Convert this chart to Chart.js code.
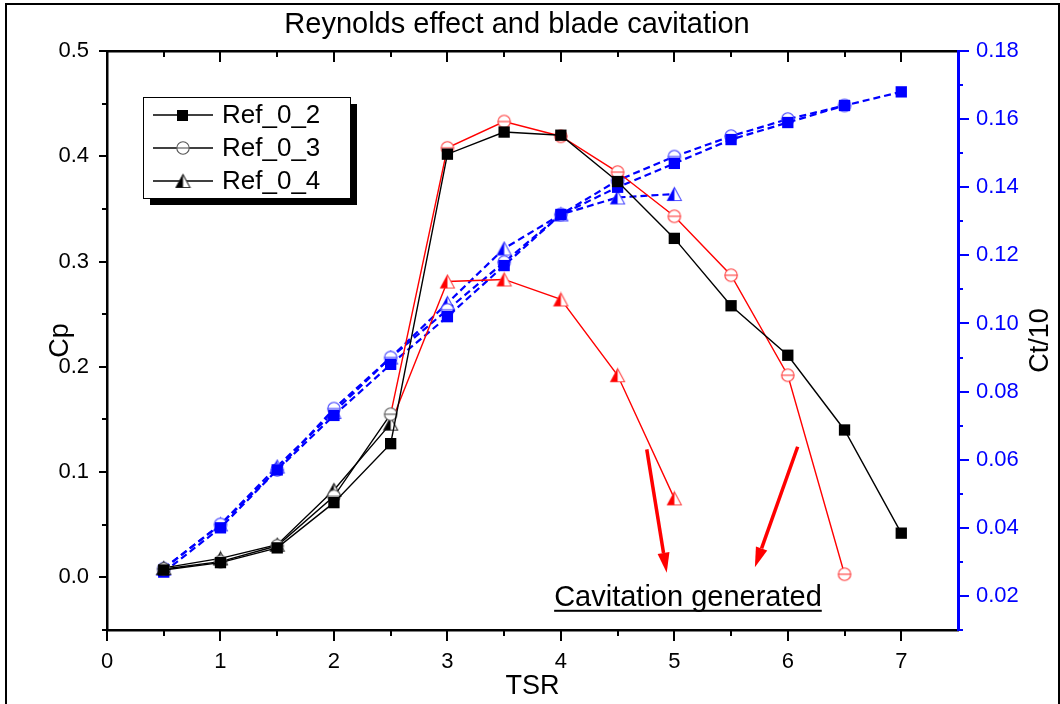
<!DOCTYPE html>
<html>
<head>
<meta charset="utf-8">
<title>Reynolds effect and blade cavitation</title>
<script src="https://cdn.jsdelivr.net/npm/chart.js@4.4.0/dist/chart.umd.min.js"></script>
<style>
  html, body { margin: 0; padding: 0; background: #fff; }
  #wrap { position: relative; width: 1060px; height: 704px; overflow: hidden; }
  #moldura { position: absolute; left: 5px; top: 3px; width: 1051px; height: 720px;
             border: 2px solid #000; pointer-events: none; }
</style>
</head>
<body>
<div id="wrap">
  <canvas id="grafico" width="1060" height="704"></canvas>
  <div id="moldura"></div>
</div>
<script>
// ---- dados ----
const TSR = [0.5, 1, 1.5, 2, 2.5, 3, 3.5, 4, 4.5, 5, 5.5, 6, 6.5, 7];

const CP_REF_02 = [0.007, 0.014, 0.028, 0.071, 0.127, 0.402, 0.423, 0.420, 0.376, 0.322, 0.258, 0.211, 0.140, 0.042];
const CP_REF_03 = [0.008, 0.015, 0.030, 0.077, 0.155, 0.408, 0.433, 0.419, 0.385, 0.343, 0.287, 0.192, 0.003];
const CP_REF_04 = [0.009, 0.018, 0.031, 0.083, 0.146, 0.281, 0.283, 0.264, 0.192, 0.075];

const CT_REF_02 = [0.027, 0.040, 0.057, 0.073, 0.088, 0.102, 0.117, 0.132, 0.140, 0.147, 0.154, 0.159, 0.164, 0.168];
const CT_REF_03 = [0.028, 0.041, 0.057, 0.075, 0.090, 0.104, 0.118, 0.132, 0.142, 0.149, 0.155, 0.160, 0.164];
const CT_REF_04 = [0.028, 0.041, 0.058, 0.074, 0.090, 0.106, 0.122, 0.132, 0.137, 0.138];

const LEGENDA = ['Ref_0_2', 'Ref_0_3', 'Ref_0_4'];
const TITULO = 'Reynolds effect and blade cavitation';
const TITULO_Y2 = 'Ct/10';

// a partir deste TSR as curvas Cp de 0_3 e 0_4 ficam vermelhas
const TSR_CAVITACAO = 3;

const FONTE = "'Liberation Sans', Arial, sans-serif";
const AZUL = '#0000ff';
const VERMELHO = '#ff0000';

// ---- marcadores desenhados em canvas ----
function circuloCortado(cor) {
  const c = document.createElement('canvas');
  c.width = c.height = 16;
  const g = c.getContext('2d');
  g.strokeStyle = cor;
  g.lineWidth = 1.1;
  g.beginPath();
  g.arc(8, 8, 6.2, 0, Math.PI * 2);
  g.fillStyle = '#fff';
  g.fill();
  g.stroke();
  g.beginPath();
  g.moveTo(1.8, 8);
  g.lineTo(14.2, 8);
  g.stroke();
  return c;
}

function meioTriangulo(cor, contorno) {
  const c = document.createElement('canvas');
  c.width = 17; c.height = 16;
  const g = c.getContext('2d');
  const topo = [8.5, 1.5], esq = [1.5, 14.5], dir = [15.5, 14.5];
  g.fillStyle = '#fff';
  g.beginPath();
  g.moveTo(...topo); g.lineTo(...esq); g.lineTo(...dir); g.closePath();
  g.fill();
  g.strokeStyle = contorno;
  g.lineWidth = 1.1;
  g.stroke();
  g.fillStyle = cor;
  g.beginPath();
  g.moveTo(...topo); g.lineTo(...esq); g.lineTo(8.5, 14.5); g.closePath();
  g.fill();
  return c;
}

const MARCA = {
  circPreto: circuloCortado('#555'),
  circVermelho: circuloCortado('#ff3a3a'),
  circAzul: circuloCortado('#3a3aff'),
  triPreto: meioTriangulo('#000', '#333'),
  triVermelho: meioTriangulo(VERMELHO, '#ff4a4a'),
  triAzul: meioTriangulo(AZUL, '#5050ff'),
};

const pontos = (ys) => ys.map((y, i) => ({ x: TSR[i], y }));
const cavitando = (ctx) => TSR[ctx.dataIndex] >= TSR_CAVITACAO;

// ---- séries ----
const datasets = [
  {
    label: 'Cp ' + LEGENDA[0], data: pontos(CP_REF_02), yAxisID: 'y', order: 1,
    borderColor: '#000', borderWidth: 1.4,
    pointStyle: 'rect', pointRadius: 8, pointBackgroundColor: '#000', pointBorderWidth: 0,
  },
  {
    label: 'Cp ' + LEGENDA[1], data: pontos(CP_REF_03), yAxisID: 'y', order: 2,
    borderColor: '#000', borderWidth: 1.4,
    segment: { borderColor: s => TSR[s.p1DataIndex] >= TSR_CAVITACAO ? VERMELHO : '#000' },
    pointStyle: ctx => cavitando(ctx) ? MARCA.circVermelho : MARCA.circPreto,
  },
  {
    label: 'Cp ' + LEGENDA[2], data: pontos(CP_REF_04), yAxisID: 'y', order: 3,
    borderColor: '#000', borderWidth: 1.4,
    segment: { borderColor: s => TSR[s.p1DataIndex] >= TSR_CAVITACAO ? VERMELHO : '#000' },
    pointStyle: ctx => cavitando(ctx) ? MARCA.triVermelho : MARCA.triPreto,
  },
  {
    label: 'Ct/10 ' + LEGENDA[0], data: pontos(CT_REF_02), yAxisID: 'y2', order: 4,
    borderColor: AZUL, borderWidth: 2.2, borderDash: [7, 4],
    pointStyle: 'rect', pointRadius: 8, pointBackgroundColor: AZUL, pointBorderWidth: 0,
  },
  {
    label: 'Ct/10 ' + LEGENDA[1], data: pontos(CT_REF_03), yAxisID: 'y2', order: 5,
    borderColor: AZUL, borderWidth: 2.2, borderDash: [7, 4],
    pointStyle: MARCA.circAzul,
  },
  {
    label: 'Ct/10 ' + LEGENDA[2], data: pontos(CT_REF_04), yAxisID: 'y2', order: 6,
    borderColor: AZUL, borderWidth: 2.2, borderDash: [7, 4],
    pointStyle: MARCA.triAzul,
  },
];

// ---- marcas dos eixos (maiores e menores) ----
const marcasEixos = {
  id: 'marcasEixos',
  afterDraw(chart) {
    const { ctx, chartArea: a, scales } = chart;
    const traco = (x1, y1, x2, y2) => { ctx.beginPath(); ctx.moveTo(x1, y1); ctx.lineTo(x2, y2); ctx.stroke(); };
    ctx.save();
    ctx.lineWidth = 2;
    ctx.strokeStyle = '#000';
    for (let k = 0; k <= 14; k++) {
      const px = Math.round(scales.x.getPixelForValue(k * 0.5));
      const len = k % 2 === 0 ? 11 : 6;
      traco(px, a.bottom, px, a.bottom + len);
      traco(px, a.top, px, a.top + len);
    }
    for (let k = -1; k <= 10; k++) {
      const py = Math.round(scales.y.getPixelForValue(k * 0.05));
      const len = k % 2 === 0 ? 8 : 5;
      traco(a.left, py, a.left - len, py);
    }
    ctx.strokeStyle = AZUL;
    for (let k = 1; k <= 18; k++) {
      const py = Math.round(scales.y2.getPixelForValue(k * 0.01));
      const len = k % 2 === 0 ? 11 : 5;
      traco(a.right, py, a.right + len, py);
    }
    ctx.restore();
  }
};

// ---- título do gráfico e título do eixo direito (lido de baixo para cima) ----
const titulos = {
  id: 'titulos',
  afterDraw(chart) {
    const { ctx, chartArea: a } = chart;
    ctx.save();
    ctx.fillStyle = '#000';
    ctx.textAlign = 'center';
    ctx.textBaseline = 'middle';
    ctx.font = '29px ' + FONTE;
    ctx.fillText(TITULO, a.left + 410, 25);
    ctx.font = '27px ' + FONTE;
    ctx.translate(1041, (a.top + a.bottom) / 2);
    ctx.rotate(-Math.PI / 2);
    ctx.fillText(TITULO_Y2, 0, 0);
    ctx.restore();
  }
};

// ---- legenda em caixa com sombra ----
const legendaCaixa = {
  id: 'legendaCaixa',
  afterDraw(chart) {
    const { ctx } = chart;
    const x = 143, y = 97, w = 207, h = 101;
    const marcas = ['rect', MARCA.circPreto, MARCA.triPreto];
    ctx.save();
    ctx.fillStyle = '#000';
    ctx.fillRect(x + 7, y + 7, w, h);
    ctx.fillStyle = '#fff';
    ctx.fillRect(x, y, w, h);
    ctx.strokeStyle = '#000';
    ctx.lineWidth = 1;
    ctx.strokeRect(x + 0.5, y + 0.5, w, h);
    LEGENDA.forEach((nome, i) => {
      const cy = y + 18 + i * 33;
      ctx.strokeStyle = '#000';
      ctx.lineWidth = 1.3;
      ctx.beginPath(); ctx.moveTo(x + 10, cy); ctx.lineTo(x + 70, cy); ctx.stroke();
      if (marcas[i] === 'rect') {
        ctx.fillStyle = '#000';
        ctx.fillRect(x + 34, cy - 5, 11, 11);
      } else {
        const m = marcas[i];
        ctx.drawImage(m, x + 40 - m.width / 2, cy - m.height / 2);
      }
      ctx.fillStyle = '#000';
      ctx.font = '26px ' + FONTE;
      ctx.textBaseline = 'middle';
      ctx.fillText(nome, x + 79, cy + 1);
    });
    ctx.restore();
  }
};

// ---- setas e texto de cavitação ----
const SETAS = [
  { de: [4.757, 0.1216], ate: [4.933, 0.0044] },
  { de: [6.087, 0.1241], ate: [5.710, 0.0096] },
];
const NOTA = { texto: 'Cavitation generated', x: 5.12, y: -0.027 };

const anotacoes = {
  id: 'anotacoes',
  afterDatasetsDraw(chart) {
    const { ctx, scales: { x: sx, y: sy } } = chart;
    ctx.save();
    SETAS.forEach(s => {
      const x1 = sx.getPixelForValue(s.de[0]), y1 = sy.getPixelForValue(s.de[1]);
      const x2 = sx.getPixelForValue(s.ate[0]), y2 = sy.getPixelForValue(s.ate[1]);
      const ang = Math.atan2(y2 - y1, x2 - x1);
      const cab = 20, larg = 6;
      const bx = x2 - cab * Math.cos(ang), by = y2 - cab * Math.sin(ang);
      ctx.strokeStyle = VERMELHO;
      ctx.lineWidth = 3.5;
      ctx.beginPath(); ctx.moveTo(x1, y1); ctx.lineTo(bx, by); ctx.stroke();
      ctx.fillStyle = VERMELHO;
      ctx.beginPath();
      ctx.moveTo(x2, y2);
      ctx.lineTo(bx + larg * Math.sin(ang), by - larg * Math.cos(ang));
      ctx.lineTo(bx - larg * Math.sin(ang), by + larg * Math.cos(ang));
      ctx.closePath();
      ctx.fill();
    });
    const tx = sx.getPixelForValue(NOTA.x), ty = sy.getPixelForValue(NOTA.y);
    ctx.font = '29px ' + FONTE;
    ctx.fillStyle = '#000';
    ctx.textAlign = 'center';
    ctx.textBaseline = 'alphabetic';
    ctx.fillText(NOTA.texto, tx, ty);
    const w = ctx.measureText(NOTA.texto).width;
    ctx.fillRect(tx - w / 2, ty + 4, w, 2);
    ctx.restore();
  }
};

const fonteTick = { family: FONTE, size: 22 };
const fonteTitulo = { family: FONTE, size: 27 };

new Chart(document.getElementById('grafico'), {
  type: 'line',
  data: { datasets },
  options: {
    responsive: false,
    animation: false,
    devicePixelRatio: 1,
    layout: { padding: 0 },
    elements: {
      point: { radius: 6, hoverRadius: 6 },
      line: { tension: 0 },
    },
    plugins: {
      legend: { display: false },
      tooltip: { enabled: false },
      title: { display: false },
    },
    scales: {
      x: {
        type: 'linear', position: 'bottom', min: 0, max: 7.5,
        afterFit: s => { s.height = 74; },
        grid: { display: false, drawTicks: false },
        border: { display: true, color: '#000', width: 2.5 },
        ticks: { stepSize: 1, includeBounds: false, autoSkip: false, maxRotation: 0,
                 padding: 19, color: '#000', font: fonteTick },
        title: { display: true, text: 'TSR', color: '#000', font: fonteTitulo, padding: { bottom: 1 } },
      },
      x2: {
        type: 'linear', position: 'top', min: 0, max: 7.5, display: true,
        afterFit: s => { s.height = 51; },
        grid: { display: false, drawTicks: false },
        border: { display: true, color: '#000', width: 2.5 },
        ticks: { display: false },
      },
      y: {
        type: 'linear', position: 'left', min: -0.05, max: 0.5,
        afterFit: s => { s.width = 107; },
        grid: { display: false, drawTicks: false },
        border: { display: true, color: '#000', width: 2.5 },
        ticks: { stepSize: 0.1, includeBounds: false, padding: 18, color: '#000', font: fonteTick,
                 callback: v => v.toFixed(1) },
        title: { display: true, text: 'Cp', color: '#000', font: fonteTitulo, padding: { top: 44 } },
      },
      y2: {
        type: 'linear', position: 'right', min: 0.01, max: 0.18,
        afterFit: s => { s.width = 102; },
        grid: { display: false, drawTicks: false },
        border: { display: true, color: AZUL, width: 3 },
        ticks: { stepSize: 0.02, includeBounds: false, padding: 18, color: AZUL, font: fonteTick,
                 callback: v => v.toFixed(2) },
        title: { display: false },
      },
    },
  },
  plugins: [marcasEixos, anotacoes, legendaCaixa, titulos],
});
</script>
</body>
</html>
